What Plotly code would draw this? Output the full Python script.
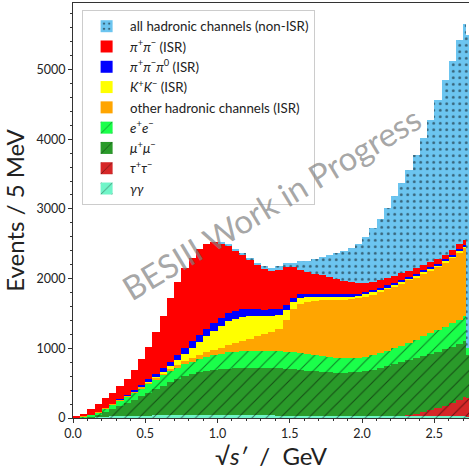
import plotly.graph_objects as go

bin_edges = [0.0, 0.05, 0.1, 0.15, 0.2, 0.25, 0.3, 0.35, 0.4, 0.45,
             0.5, 0.55, 0.6, 0.65, 0.7, 0.75, 0.8, 0.85, 0.9, 0.95,
             1.0, 1.05, 1.1, 1.15, 1.2, 1.25, 1.3, 1.35, 1.4, 1.45,
             1.5, 1.55, 1.6, 1.65, 1.7, 1.75, 1.8, 1.85, 1.9, 1.95,
             2.0, 2.05, 2.1, 2.15, 2.2, 2.25, 2.3, 2.35, 2.4, 2.45,
             2.5, 2.55, 2.6, 2.65, 2.7, 2.72, 2.74]

# events / 5 MeV, per channel (stacked bottom -> top)
gamgam = [0, 3, 8, 14, 19, 23, 27, 30, 32, 34,
          35, 36, 37, 37, 38, 38, 38, 38, 38, 38,
          38, 38, 37, 37, 37, 36, 36, 36, 35, 35,
          35, 35, 35, 34, 34, 34, 34, 33, 33, 33,
          33, 32, 32, 32, 31, 31, 31, 30, 30, 30,
          29, 29, 28, 28, 27, 20]
tautau = [0, 0, 0, 0, 0, 0, 0, 0, 0, 0,
          0, 0, 0, 0, 0, 0, 0, 0, 0, 0,
          0, 0, 0, 0, 0, 0, 0, 0, 0, 0,
          0, 0, 0, 0, 0, 0, 0, 0, 0, 0,
          0, 0, 0, 0, 0, 0, 10, 25, 50, 80,
          115, 150, 185, 225, 270, 270]
mumu = [3, 7, 17, 36, 66, 107, 148, 190, 233, 281,
        330, 379, 428, 478, 522, 562, 592, 617, 637, 652,
        662, 670, 677, 681, 683, 686, 686, 684, 680, 675,
        665, 655, 645, 636, 628, 622, 618, 617, 620, 629,
        643, 663, 686, 712, 741, 769, 789, 805, 810, 810,
        806, 806, 807, 807, 803, 610]
ee = [2, 10, 20, 35, 55, 65, 80, 92, 105, 115,
      125, 135, 145, 153, 160, 168, 180, 193, 205, 215,
      225, 232, 236, 240, 242, 243, 243, 242, 243, 240,
      240, 240, 235, 230, 223, 216, 210, 205, 202, 198,
      199, 205, 212, 221, 228, 240, 250, 260, 280, 300,
      315, 325, 340, 350, 360, 100]
other_isr = [1, 2, 3, 5, 6, 8, 10, 13, 16, 20,
             24, 28, 32, 37, 42, 47, 52, 57, 65, 75,
             85, 105, 130, 152, 178, 205, 235, 273, 322, 450,
             620, 710, 755, 780, 805, 823, 833, 842, 848, 855,
             865, 870, 875, 880, 885, 890, 895, 900, 900, 900,
             905, 920, 940, 970, 980, 0]
kk_isr = [0, 0, 0, 0, 0, 0, 0, 0, 0, 3,
          5, 8, 20, 40, 70, 105, 145, 185, 225, 270,
          315, 340, 345, 340, 320, 290, 260, 235, 205, 150,
          100, 80, 65, 58, 52, 48, 45, 42, 40, 38,
          36, 34, 33, 32, 31, 30, 29, 28, 27, 26,
          25, 25, 24, 24, 23, 0]
pipipi0_isr = [0, 0, 0, 0, 0, 0, 3, 8, 15, 25,
               35, 45, 55, 65, 75, 90, 95, 100, 105, 110,
               115, 115, 115, 110, 105, 100, 95, 90, 80, 70,
               60, 55, 50, 45, 42, 40, 38, 36, 34, 32,
               30, 29, 28, 27, 26, 25, 24, 23, 22, 22,
               21, 21, 20, 20, 20, 0]
pipi_isr = [14, 38, 82, 110, 139, 162, 187, 232, 289, 362,
            466, 599, 753, 910, 1043, 1140, 1198, 1230, 1215, 1160,
            1070, 970, 870, 780, 705, 640, 585, 550, 565, 550,
            450, 355, 315, 287, 261, 237, 217, 195, 173, 150,
            129, 117, 109, 101, 98, 90, 82, 79, 76, 72,
            69, 64, 66, 66, 67, 0]
hadr_nonisr = [0, 0, 0, 0, 0, 0, 0, 0, 0, 0,
               0, 0, 0, 0, 0, 0, 0, 0, 0, 0,
               10, 15, 20, 25, 30, 30, 35, 40, 45, 50,
               60, 120, 160, 210, 265, 320, 375, 430, 490, 565,
               665, 770, 885, 1015, 1150, 1295, 1450, 1630, 1825, 2040,
               2275, 2510, 2710, 2930, 3100, 4500]

labels = [
    "<i>γγ</i>",
    "<i>τ</i><sup>+</sup><i>τ</i><sup>−</sup>",
    "<i>μ</i><sup>+</sup><i>μ</i><sup>−</sup>",
    "<i>e</i><sup>+</sup><i>e</i><sup>−</sup>",
    "other hadronic channels (ISR)",
    "<i>K</i><sup>+</sup><i>K</i><sup>−</sup> (ISR)",
    "<i>π</i><sup>+</sup><i>π</i><sup>−</sup><i>π</i><sup>0</sup> (ISR)",
    "<i>π</i><sup>+</sup><i>π</i><sup>−</sup> (ISR)",
    "all hadronic channels (non-ISR)",
]
values = [gamgam, tautau, mumu, ee, other_isr, kk_isr, pipipi0_isr, pipi_isr, hadr_nonisr]
colors = ["#70f5c8", "#d62728", "#2a9a2a", "#1aff4a", "#ffa500", "#ffff00",
          "#0000ff", "#ff0000", "#6cc5f0"]
patterns = ["/", "/", "/", "/", "", "", "", "", "."]

centers = [(a + b) / 2 for a, b in zip(bin_edges[:-1], bin_edges[1:])]
widths = [b - a for a, b in zip(bin_edges[:-1], bin_edges[1:])]

fig = go.Figure()
n = len(labels)
for i, (lab, vals, col, pat) in enumerate(zip(labels, values, colors, patterns)):
    marker = dict(color=col, line=dict(width=0))
    if pat == "/":
        marker["pattern"] = dict(shape="/", fgcolor="black", size=10, solidity=0.1)
    elif pat == ".":
        marker["pattern"] = dict(shape=".", fgcolor="black", size=6.5, solidity=0.15)
    fig.add_trace(go.Bar(x=centers, y=vals, width=widths, name=lab, marker=marker,
                         legendrank=n - i))

fig.add_annotation(x=1.37, y=3080, xref="x", yref="y", text="BESIII Work in Progress",
                   showarrow=False, textangle=-31,
                   font=dict(size=33, color="rgba(128,128,128,0.7)", family="Lato, DejaVu Sans, sans-serif"))

fig.update_layout(
    width=469, height=474,
    margin=dict(l=73, r=0, t=3, b=56),
    paper_bgcolor="white", plot_bgcolor="white",
    barmode="stack", bargap=0,
    font=dict(family="Lato, DejaVu Sans, sans-serif", color="#222222"),
    legend=dict(x=0.023, y=0.983, xanchor="left", yanchor="top",
                bgcolor="white", bordercolor="#cccccc", borderwidth=1,
                font=dict(size=13.3), traceorder="normal", itemwidth=37),
    xaxis=dict(range=[0, 2.74], dtick=0.5, tick0=0, tickformat=".1f",
               ticks="outside", ticklen=4, tickcolor="#333333",
               showline=True, linecolor="#333333", linewidth=1, mirror=True,
               showgrid=False, zeroline=False, tickfont=dict(size=12.5),
               minor=dict(dtick=0.1, ticklen=2, ticks="outside", tickcolor="#333333"),
               title=dict(text="√<i>s′</i>  /  GeV", font=dict(size=24), standoff=2)),
    yaxis=dict(range=[0, 5955], dtick=1000, ticks="outside", ticklen=4, tickcolor="#333333",
               showline=True, linecolor="#333333", linewidth=1,
               showgrid=False, zeroline=False, tickfont=dict(size=12.5),
               minor=dict(dtick=200, ticklen=2, ticks="outside", tickcolor="#333333"),
               title=dict(text="Events / 5 MeV", font=dict(size=24), standoff=8)),
)

fig.write_html("out.html", config={"displayModeBar": False},
               post_script="document.body.style.margin='0';document.body.style.padding='0';")
